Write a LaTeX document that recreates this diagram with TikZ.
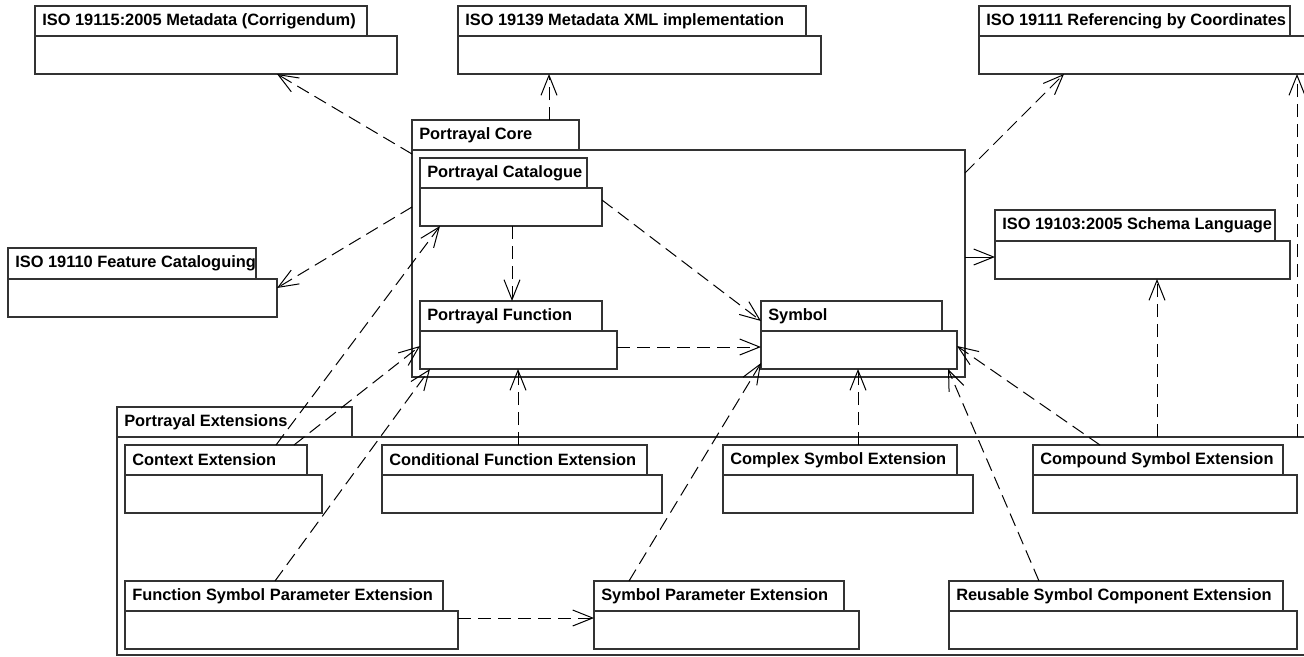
\documentclass[tikz,border=0pt]{standalone}
\usepackage{fontspec}
\setmainfont{Liberation Sans}
\usetikzlibrary{arrows.meta,fit}

% UML package: body box, name tab on top of it, and the tab's label.
% #1 name, #2 left, #3 tab top, #4 tab right, #5 tab bottom, #6 body right, #7 body bottom, #8 label
\newcommand\umlpkg[8]{%
  \node[pkgbox, fit={(#2,#5) (#6,#7)}] (#1) {};
  \node[pkgbox, fit={(#2,#3) (#4,#5)}] (#1-tab) {};
  \node[pkglabel] (#1-name) at ([xshift=5.25pt]#1-tab.west) {#8};
}

\tikzset{
  pkgbox/.style={draw=black!80, line width=0.9pt, fill=white, inner sep=0pt, outer sep=0pt},
  pkglabel/.style={anchor=west, inner sep=0pt, text=black,
    font=\bfseries\fontsize{12.3}{15}\selectfont},
  dep/.style={draw=black, line width=0.75pt, dash pattern=on 10pt off 5pt,
    -{Straight Barb[length=15pt,width=12pt]}},
}

\begin{document}
\begin{tikzpicture}[x=0.75pt, y=-0.75pt]
\path[use as bounding box] (0,0) rectangle (1304,657);
\clip (0,0) rectangle (1304,657);

% containers
\umlpkg{core}{412}{120}{579}{150}{965}{377}{Portrayal Core}
\umlpkg{ext}{117}{407}{352}{437}{1306}{655}{Portrayal Extensions}

% external standards
\umlpkg{iso15}{35}{6}{367}{36}{397}{74}{ISO 19115:2005 Metadata (Corrigendum)}
\umlpkg{iso39}{458}{6}{806}{36}{821}{74}{ISO 19139 Metadata XML implementation}
\umlpkg{iso11}{979}{6}{1290}{36}{1306}{74}{ISO 19111 Referencing by Coordinates}
\umlpkg{iso03}{995}{210}{1275}{241}{1290}{279}{ISO 19103:2005 Schema Language}
\umlpkg{iso10}{8}{248}{256}{279}{277}{317}{ISO 19110 Feature Cataloguing}

% core packages
\umlpkg{cat}{420}{158}{587}{188}{602}{226}{Portrayal Catalogue}
\umlpkg{fun}{420}{301}{602}{331}{617}{369}{Portrayal Function}
\umlpkg{sym}{761}{301}{942}{331}{957}{369}{Symbol}

% extension packages
\umlpkg{ctx}{125}{445}{307}{475}{322}{513}{Context Extension}
\umlpkg{cfe}{382}{445}{647}{475}{662}{513}{Conditional Function Extension}
\umlpkg{cse}{723}{445}{957}{475}{973}{513}{Complex Symbol Extension}
\umlpkg{cmp}{1033}{445}{1283}{475}{1297}{513}{Compound Symbol Extension}
\umlpkg{fsp}{125}{581}{443}{611}{458}{649}{Function Symbol Parameter Extension}
\umlpkg{spe}{594}{581}{844}{611}{859}{649}{Symbol Parameter Extension}
\umlpkg{rsc}{949}{581}{1283}{611}{1297}{649}{Reusable Symbol Component Extension}

% dependencies of the core
\draw[dep] (core.west |- 0,154) -- (277,0 |- iso15.south);
\draw[dep] (549,0 |- core-tab.north) -- (549,0 |- iso39.south);
\draw[dep] (core.east |- 0,173) -- (1064,0 |- iso11.south);
\draw[dep] (core.west |- 0,207) -- (iso10.east |- 0,288);
\draw[dep, dash pattern=on 30pt off 5pt] (core.east |- 0,257) -- (iso03.west |- 0,257);

% dependencies of the extensions
\draw[dep] (1157,0 |- ext.north) -- (1157,0 |- iso03.south);
\draw[dep] (1297,0 |- ext.north) -- (1297,0 |- iso11.south);

% inside the core
\draw[dep] (512,0 |- cat.south) -- (512,0 |- fun-tab.north);
\draw[dep] (cat.east |- 0,200) -- (sym-tab.west |- 0,321);
\draw[dep] (fun.east |- 0,347) -- (sym.west |- 0,347);

% extensions onto the core
\draw[dep] (276,0 |- ctx-tab.north) -- (440,0 |- cat.south);
\draw[dep] (294,0 |- ctx-tab.north) -- (fun.west |- 0,346);
\draw[dep] (275,0 |- fsp-tab.north) -- (430,0 |- fun.south);
\draw[dep] (518,0 |- cfe-tab.north) -- (518,0 |- fun.south);
\draw[dep] (858,0 |- cse-tab.north) -- (858,0 |- sym.south);
\draw[dep] (629,0 |- spe-tab.north) -- (sym.west |- 0,363);
\draw[dep] (1039,0 |- rsc-tab.north) -- (948,0 |- sym.south);
\draw[dep] (1100,0 |- cmp-tab.north) -- (sym.east |- 0,346);
\draw[dep] (fsp.east |- 0,618) -- (spe.west |- 0,618);
\end{tikzpicture}
\end{document}
